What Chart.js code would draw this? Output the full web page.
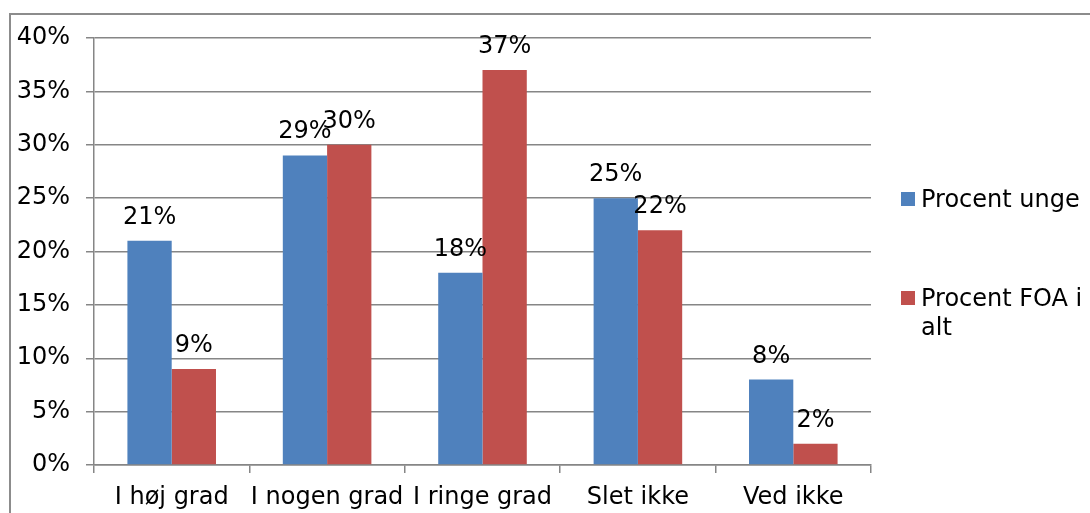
<!DOCTYPE html>
<html>
<head>
<meta charset="utf-8">
<script src="https://cdn.jsdelivr.net/npm/chart.js@4"></script>
<style>
  html, body { margin: 0; padding: 0; background: #fff; overflow: hidden; }
  #wrap { position: relative; width: 1090px; height: 513px; }
  #frame { position: absolute; left: 9px; top: 13px; width: 1200px; height: 600px; border: 2px solid #8c8c8c; box-sizing: border-box; }
  canvas { position: absolute; left: 0; top: 0; }
  .legend { position: absolute; left: 901px; font-family: 'DejaVu Sans', Verdana, sans-serif; font-size: 24px; line-height: 29px; color: #000; width: 185px; }
  .legend span.box { position: absolute; left: 0; top: 7px; width: 14px; height: 14px; }
  .legend div.txt { margin-left: 20px; }
</style>
</head>
<body>
<div id="wrap">
  <div id="frame"></div>
  <canvas id="chart" width="1090" height="513"></canvas>
  <div class="legend" style="top:185px"><span class="box" style="background:#4f81bd"></span><div class="txt">Procent unge</div></div>
  <div class="legend" style="top:284px"><span class="box" style="background:#c0504d"></span><div class="txt">Procent FOA i alt</div></div>
</div>
<script>
// kategorier og værdier
const categories = ['I høj grad', 'I nogen grad', 'I ringe grad', 'Slet ikke', 'Ved ikke'];
const procentUnge = [21, 29, 18, 25, 8];
const procentFOA = [9, 30, 37, 22, 2];
const yTicks = [0, 5, 10, 15, 20, 25, 30, 35, 40];

const gridColor = '#868686';
const fontFamily = "'DejaVu Sans', Verdana, sans-serif";

// etiketter over søjlerne
const barLabels = {
    id: 'barLabels',
    afterDatasetsDraw(chart) {
        const ctx = chart.ctx;
        ctx.save();
        ctx.font = '24px ' + fontFamily;
        ctx.fillStyle = '#000';
        ctx.textAlign = 'center';
        ctx.textBaseline = 'alphabetic';
        chart.data.datasets.forEach((ds, i) => {
            chart.getDatasetMeta(i).data.forEach((bar, j) => {
                ctx.fillText(ds.data[j] + '%', bar.x, bar.y - 17);
            });
        });
        ctx.restore();
    }
};

new Chart(document.getElementById('chart'), {
    type: 'bar',
    data: {
        labels: categories,
        datasets: [
            { label: 'Procent unge', data: procentUnge, backgroundColor: '#4f81bd' },
            { label: 'Procent FOA i alt', data: procentFOA, backgroundColor: '#c0504d' }
        ]
    },
    options: {
        responsive: false,
        animation: false,
        layout: { padding: { top: 38, right: 219, left: 0, bottom: 0 } },
        datasets: { bar: { categoryPercentage: 0.57, barPercentage: 1.0 } },
        plugins: { legend: { display: false }, tooltip: { enabled: false } },
        scales: {
            x: {
                grid: { drawOnChartArea: false, drawTicks: true, tickLength: 8, color: gridColor, lineWidth: 1.5 },
                border: { color: gridColor, width: 1.5 },
                ticks: { color: '#000', font: { family: fontFamily, size: 24 }, padding: 10, maxRotation: 0, autoSkip: false },
                afterFit(scale) { scale.height = 48; }
            },
            y: {
                min: 0, max: 40,
                afterBuildTicks(scale) { scale.ticks = yTicks.map(v => ({ value: v })); },
                grid: { color: gridColor, lineWidth: 1.5, tickLength: 8 },
                border: { color: gridColor, width: 1.5 },
                ticks: { color: '#000', font: { family: fontFamily, size: 24 }, padding: 16, callback: v => v + '%' },
                afterFit(scale) { scale.width = 94; }
            }
        }
    },
    plugins: [barLabels]
});
</script>
</body>
</html>
